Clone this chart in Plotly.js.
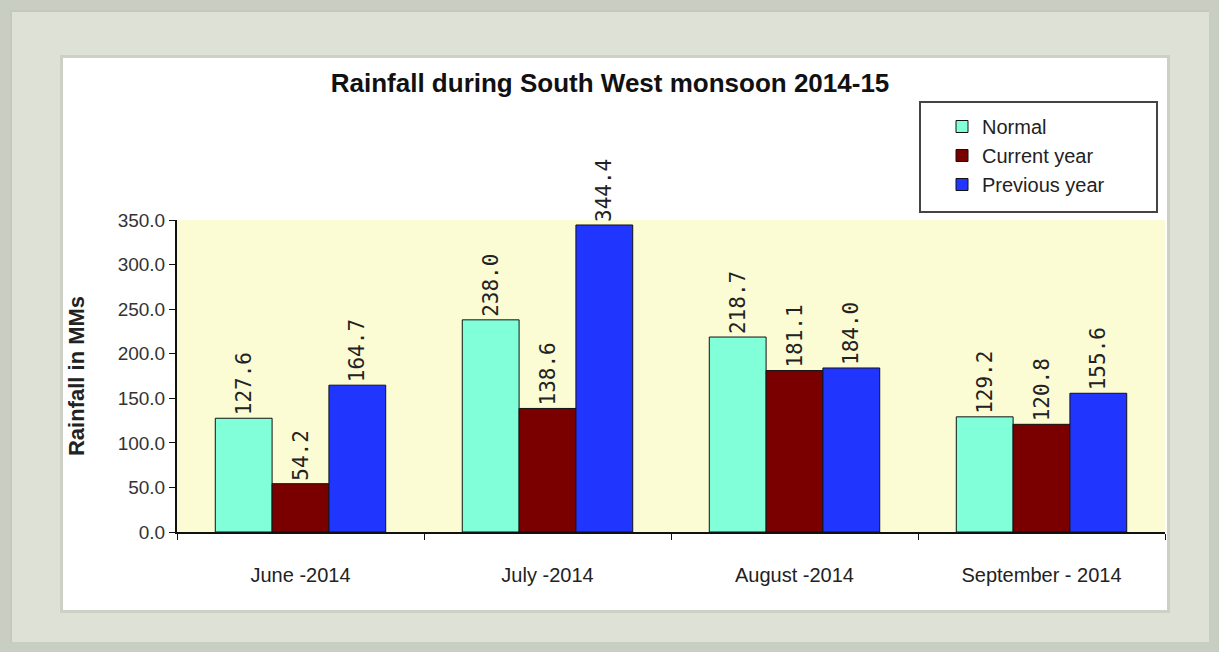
<!DOCTYPE html>
<html>
<head>
<meta charset="utf-8">
<script src="https://cdn.plot.ly/plotly-3.0.1.min.js"></script>
<style>
html,body{margin:0;padding:0;}
body{width:1219px;height:652px;background:#c9cec3;position:relative;overflow:hidden;}
#frame{position:absolute;left:10px;top:10px;width:1199px;height:632px;background:#dde1d6;border-top:2px solid #c4c9bd;border-left:2px solid #c4c9bd;box-sizing:border-box;}
#inner{position:absolute;left:60px;top:55px;width:1110px;height:558px;background:#ccd1c6;}
#chart{position:absolute;left:63px;top:58px;width:1104px;height:552px;background:#fff;}
</style>
</head>
<body>
<div id="frame"></div>
<div id="inner"></div>
<div id="chart"></div>
<script>
const categories = ["June -2014", "July -2014", "August -2014", "September - 2014"];
const normal = [127.6, 238.0, 218.7, 129.2];
const currentYear = [54.2, 138.6, 181.1, 120.8];
const previousYear = [164.7, 344.4, 184.0, 155.6];
const seriesNames = ["Normal", "Current year", "Previous year"];
const seriesColors = ["#80FFD8", "#7A0000", "#2036FF"];
const yTicks = [0, 50, 100, 150, 200, 250, 300, 350];

const narrow = "Liberation Sans Narrow, Arial Narrow, Liberation Sans, Arial, sans-serif";
const values = [normal, currentYear, previousYear];
const traces = values.map((v, i) => ({
  type: "bar",
  name: seriesNames[i],
  x: categories,
  y: v,
  marker: {color: seriesColors[i], line: {color: "#111", width: 1}},
  text: v.map(d => d.toFixed(1)),
  textposition: "outside",
  textangle: -90,
  constraintext: "none",
  cliponaxis: false,
  textfont: {family: "DejaVu Sans Mono, monospace", size: 21, color: "#222"},
  hoverinfo: "skip"
}));

// plot area in div px: x 114..1102, y 162..474
const px = v => (v - 114) / 988;
const py = v => (474 - v) / 312;

const layout = {
  width: 1104,
  height: 552,
  margin: {l: 114, r: 2, t: 162, b: 78},
  paper_bgcolor: "#ffffff",
  plot_bgcolor: "#FCFCD4",
  barmode: "group",
  bargap: 0.31,
  bargroupgap: 0,
  showlegend: true,
  title: {
    text: "<b>Rainfall during South West monsoon 2014-15</b>",
    font: {family: narrow, size: 26, color: "#111"},
    x: 0.4955, xref: "container", xanchor: "center",
    y: 1 - 25/552, yref: "container", yanchor: "middle"
  },
  xaxis: {
    type: "category",
    showgrid: false,
    showline: true, linecolor: "#111", linewidth: 2,
    ticks: "outside", tickson: "boundaries", ticklen: 6, tickcolor: "#111",
    tickfont: {family: narrow, size: 20, color: "#222"},
    ticklabelstandoff: 24,
    automargin: false
  },
  yaxis: {
    range: [0, 350],
    tickvals: yTicks,
    ticktext: yTicks.map(t => t.toFixed(1)),
    showgrid: false, zeroline: false,
    showline: true, linecolor: "#111", linewidth: 2,
    ticks: "outside", ticklen: 6, tickcolor: "#111",
    tickfont: {family: narrow, size: 19, color: "#333"},
    title: {text: "<b>Rainfall in MMs</b>", font: {family: narrow, size: 22, color: "#222"}, standoff: 27},
    automargin: false
  },
  legend: {
    x: px(879), y: py(49), xanchor: "left", yanchor: "top",
    bgcolor: "rgba(0,0,0,0)", borderwidth: 0,
    font: {family: narrow, size: 20, color: "#222"},
    itemwidth: 30,
    traceorder: "normal"
  },
  shapes: [{
    type: "rect", xref: "paper", yref: "paper", layer: "below",
    x0: px(857), x1: px(1094), y0: py(44), y1: py(154),
    line: {color: "#444", width: 2}, fillcolor: "#fff"
  }]
};

Plotly.newPlot("chart", traces, layout, {displayModeBar: false, staticPlot: true});
</script>
</body>
</html>
